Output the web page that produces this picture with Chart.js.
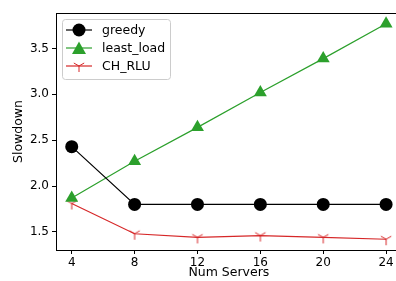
<!DOCTYPE html>
<html lang="en">
<head>
<meta charset="UTF-8">
<title>Slowdown vs Num Servers</title>
<style>
  html, body { margin: 0; padding: 0; background: #fff; overflow: hidden; }
  #wrap { width: 410px; height: 281px; }
</style>
</head>
<body>
<div id="wrap"><canvas id="myChart" width="410" height="281"></canvas></div>
<script src="https://cdn.jsdelivr.net/npm/chart.js@4.4.0/dist/chart.umd.min.js"></script>
<script>
const servers = [4, 8, 12, 16, 20, 24];
const greedy = [2.43, 1.80, 1.80, 1.80, 1.80, 1.80];
const leastLoad = [1.87, 2.27, 2.64, 3.02, 3.39, 3.77];
const chRlu = [1.81, 1.48, 1.44, 1.46, 1.44, 1.42];
const xTicks = [4, 8, 12, 16, 20, 24];
const yTicks = [1.5, 2.0, 2.5, 3.0, 3.5];

const FONT = 'DejaVu Sans';
const RED = '#d62728', GREEN = '#2ca02c';

// matplotlib "1" marker (tri_down)
function triDown(size, color) {
  const c = document.createElement('canvas');
  c.width = size; c.height = size;
  const g = c.getContext('2d');
  const m = size / 2, r = size / 2 - 1;
  g.strokeStyle = color; g.lineWidth = 1;
  g.beginPath();
  g.moveTo(m, m); g.lineTo(m, m + r);
  g.moveTo(m, m); g.lineTo(m - r * 0.866, m - r * 0.5);
  g.moveTo(m, m); g.lineTo(m + r * 0.866, m - r * 0.5);
  g.stroke();
  return c;
}
const triMarker = triDown(14, RED);

const pts = arr => servers.map((x, i) => ({ x: x, y: arr[i] }));

const frame = {
  id: 'frame',
  afterDraw(chart) {
    const { ctx, chartArea: a } = chart;
    ctx.save();
    ctx.strokeStyle = '#000'; ctx.lineWidth = 1;
    ctx.beginPath();
    ctx.moveTo(a.left, a.top + 0.5); ctx.lineTo(a.right, a.top + 0.5);
    ctx.lineTo(a.right, a.bottom);
    ctx.stroke();

    // legend box
    const bx = 62.5, by = 19.5, bw = 108, bh = 60;
    ctx.fillStyle = 'rgba(255,255,255,0.8)';
    ctx.strokeStyle = '#cccccc';
    ctx.beginPath();
    ctx.roundRect(bx, by, bw, bh, 3);
    ctx.fill(); ctx.stroke();

    const rows = [
      { label: 'greedy', color: '#000', mk: 'circle', y: 30 },
      { label: 'least_load', color: GREEN, mk: 'tri', y: 48 },
      { label: 'CH_RLU', color: RED, mk: 'y', y: 66 }
    ];
    ctx.font = '12.5px "' + FONT + '"';
    ctx.textBaseline = 'middle';
    rows.forEach(r => {
      ctx.strokeStyle = r.color; ctx.lineWidth = 1.2;
      ctx.beginPath(); ctx.moveTo(66, r.y); ctx.lineTo(92, r.y); ctx.stroke();
      ctx.fillStyle = r.color;
      if (r.mk === 'circle') {
        ctx.beginPath(); ctx.arc(79, r.y, 6.5, 0, Math.PI * 2); ctx.fill();
      } else if (r.mk === 'tri') {
        ctx.beginPath();
        ctx.moveTo(79, r.y - 6.5); ctx.lineTo(72, r.y + 6); ctx.lineTo(86, r.y + 6);
        ctx.closePath(); ctx.fill();
      } else {
        ctx.drawImage(triMarker, 79 - 7, r.y - 7);
      }
      ctx.fillStyle = '#000';
      ctx.fillText(r.label, 102, r.y + 1);
    });
    ctx.restore();
  }
};

const ctx = document.getElementById('myChart');
new Chart(ctx, {
  type: 'line',
  data: {
    datasets: [
      { label: 'greedy', data: pts(greedy), borderColor: '#000', backgroundColor: '#000',
        borderWidth: 1.2, pointStyle: 'circle', pointRadius: 6.5, pointBorderWidth: 0 },
      { label: 'least_load', data: pts(leastLoad), borderColor: GREEN, backgroundColor: GREEN,
        borderWidth: 1.2, pointStyle: 'triangle', pointRadius: 7.5, pointBorderWidth: 0 },
      { label: 'CH_RLU', data: pts(chRlu), borderColor: RED, backgroundColor: RED,
        borderWidth: 1.2, pointStyle: triMarker, pointRadius: 7 }
    ]
  },
  options: {
    responsive: false,
    animation: false,
    layout: { padding: { top: 13, right: 7.5, left: 0, bottom: 0 } },
    plugins: { legend: { display: false }, tooltip: { enabled: false } },
    scales: {
      x: {
        type: 'linear', min: 3, max: 25,
        afterBuildTicks: s => { s.ticks = xTicks.map(v => ({ value: v })); },
        afterFit: s => { s.height = 31; },
        grid: { drawOnChartArea: false, drawTicks: true, tickLength: 4, color: '#000' },
        border: { display: true, color: '#000', width: 1 },
        ticks: { color: '#000', font: { family: FONT, size: 12 }, padding: 2, maxRotation: 0 },
        title: { display: true, text: 'Num Servers', color: '#000', font: { family: FONT, size: 12.5 }, padding: { top: 0, bottom: 1 } }
      },
      y: {
        min: 1.3025, max: 3.8875,
        afterBuildTicks: s => { s.ticks = yTicks.map(v => ({ value: v })); },
        afterFit: s => { s.width = 56; },
        grid: { drawOnChartArea: false, drawTicks: true, tickLength: 4, color: '#000' },
        border: { display: true, color: '#000', width: 1 },
        ticks: { color: '#000', font: { family: FONT, size: 12 }, padding: 3,
                 callback: v => v.toFixed(1) },
        title: { display: true, text: 'Slowdown', color: '#000', font: { family: FONT, size: 12.5 }, padding: { top: 11, bottom: 0 } }
      }
    }
  },
  plugins: [frame]
});
</script>
</body>
</html>
